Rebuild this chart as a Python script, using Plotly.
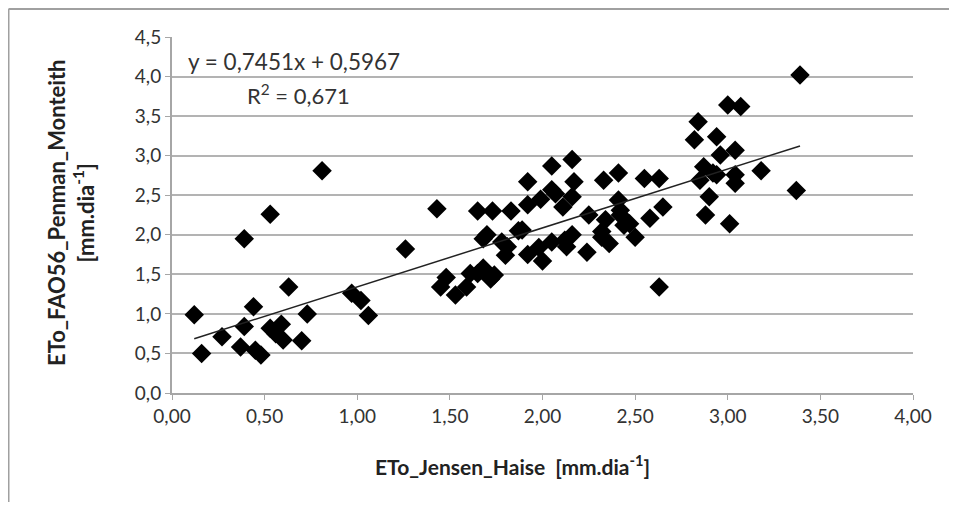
import plotly.graph_objects as go
import numpy as np

# ETo Jensen-Haise (x) vs ETo FAO56 Penman-Monteith (y), mm/day
eto_jensen_haise = [
    0.12, 0.16, 0.27, 0.37, 0.39, 0.39, 0.44, 0.45, 0.48, 0.53, 0.53, 0.56, 0.59, 0.60,
    0.63, 0.70, 0.73, 0.81, 0.97, 1.02, 1.06, 1.26,
    1.43, 1.45, 1.48, 1.53, 1.59, 1.61, 1.65, 1.68, 1.74, 1.72, 1.65, 1.73, 1.83, 1.70,
    1.68, 1.78, 1.87, 1.80, 1.81,
    1.92, 1.92, 1.99, 2.05, 2.16, 2.05, 2.17, 2.07, 2.11, 2.16, 1.92, 1.98, 2.00, 2.05,
    2.12, 2.16, 2.13, 1.89,
    2.25, 2.24, 2.33, 2.41, 2.41, 2.34, 2.42, 2.44, 2.42, 2.32, 2.36, 2.32, 2.47, 2.50,
    2.55, 2.63, 2.65, 2.58, 2.63,
    2.82, 2.84, 2.94, 2.96, 3.04, 3.00, 3.07, 2.87, 2.92, 2.85, 2.94, 3.04, 3.04, 3.18,
    3.37, 3.39, 2.90, 2.88, 3.01,
]
eto_fao56_pm = [
    0.99, 0.50, 0.71, 0.58, 0.84, 1.95, 1.09, 0.54, 0.48, 2.26, 0.82, 0.75, 0.87, 0.67,
    1.34, 0.66, 1.00, 2.81, 1.26, 1.17, 0.98, 1.82,
    2.33, 1.34, 1.46, 1.24, 1.34, 1.51, 1.51, 1.58, 1.49, 1.44, 2.30, 2.30, 2.30, 2.00,
    1.95, 1.91, 2.05, 1.74, 1.85,
    2.67, 2.38, 2.45, 2.87, 2.95, 2.57, 2.67, 2.52, 2.35, 2.48, 1.75, 1.84, 1.67, 1.91,
    1.93, 2.00, 1.85, 2.06,
    2.25, 1.78, 2.69, 2.78, 2.44, 2.19, 2.25, 2.12, 2.31, 1.97, 1.89, 2.04, 2.14, 1.97,
    2.71, 2.71, 2.35, 2.21, 1.34,
    3.20, 3.43, 3.24, 3.01, 3.07, 3.64, 3.62, 2.86, 2.78, 2.69, 2.76, 2.76, 2.65, 2.81,
    2.56, 4.02, 2.48, 2.25, 2.14,
]

trend_slope = 0.7451
trend_intercept = 0.5967
r_squared = 0.671

x_ticks = [0, 0.5, 1.0, 1.5, 2.0, 2.5, 3.0, 3.5, 4.0]
y_ticks = [0, 0.5, 1.0, 1.5, 2.0, 2.5, 3.0, 3.5, 4.0, 4.5]

FONT = "Lato"
TXT = "#333333"

fig = go.Figure()

fig.add_trace(go.Scatter(
    x=eto_jensen_haise, y=eto_fao56_pm, mode="markers",
    marker=dict(symbol="diamond", size=15, color="black", line=dict(width=0)),
    showlegend=False, hoverinfo="x+y",
))

tx = np.array([min(eto_jensen_haise), max(eto_jensen_haise)])
fig.add_trace(go.Scatter(
    x=tx, y=trend_slope * tx + trend_intercept, mode="lines",
    line=dict(color="#222222", width=1.5), showlegend=False, hoverinfo="skip",
))

# page has an 8px body margin; figure sized to fit inside the 957x510 window
W, H = 941, 494
L, R, T, B = 164, 36, 29, 109
pw, ph = W - L - R, H - T - B

def px(xp):
    return (xp - L) / pw

def py(yp):
    return (H - B - yp) / ph

border = dict(color="#a0a0a0", width=2)

fig.update_layout(
    width=W, height=H,
    margin=dict(l=L, r=R, t=T, b=B, pad=0),
    paper_bgcolor="white", plot_bgcolor="white",
    separators=",.",
    font=dict(family=FONT, size=19, color=TXT),
    xaxis=dict(
        range=[0, 4], tickvals=x_ticks, tickformat=".2f",
        showgrid=False, zeroline=False,
        showline=True, linecolor="#a6a6a6", linewidth=2,
        ticks="outside", ticklen=5, tickcolor="#a6a6a6", tickwidth=1,
        tickfont=dict(family=FONT, size=19, color=TXT),
        fixedrange=True,
    ),
    yaxis=dict(
        range=[0, 4.5], tickvals=y_ticks, tickformat=".1f",
        showgrid=True, gridcolor="#b3b3b3", gridwidth=2,
        zeroline=False,
        showline=True, linecolor="#a6a6a6", linewidth=2,
        ticks="outside", ticklen=5, tickcolor="#a6a6a6", tickwidth=1,
        tickfont=dict(family=FONT, size=19, color=TXT),
        fixedrange=True,
    ),
    shapes=[
        dict(type="line", xref="paper", yref="paper",
             x0=px(0.5), x1=px(0.5), y0=py(1), y1=py(H), line=border, layer="below"),
        dict(type="line", xref="paper", yref="paper",
             x0=px(0.5), x1=px(W), y0=py(1), y1=py(1), line=border, layer="below"),
    ],
    annotations=[
        dict(xref="paper", yref="paper", x=px(286), y=py(53), xanchor="center", yanchor="middle",
             text="y = 0,7451x + 0,5967", showarrow=False,
             font=dict(family=FONT, size=22.5, color=TXT)),
        dict(xref="paper", yref="paper", x=px(290), y=py(86), xanchor="center", yanchor="middle",
             text="R<sup>2</sup> = " + f"{r_squared:.3f}".replace(".", ","),
             showarrow=False, font=dict(family=FONT, size=22, color=TXT)),
        dict(xref="paper", yref="paper", x=px(504), y=py(457), xanchor="center", yanchor="middle",
             text="<b>ETo_Jensen_Haise  [mm.dia<sup>-1</sup>]</b>", showarrow=False,
             font=dict(family=FONT, size=21, color="#222222")),
        dict(xref="paper", yref="paper", x=px(63), y=py(205), xanchor="center", yanchor="middle",
             text="<b>ETo_FAO56_Penman_Monteith<br>[mm.dia<sup>-1</sup>]</b>", textangle=-90,
             showarrow=False, font=dict(family=FONT, size=22, color="#222222")),
    ],
)

fig.write_html("out.html")
